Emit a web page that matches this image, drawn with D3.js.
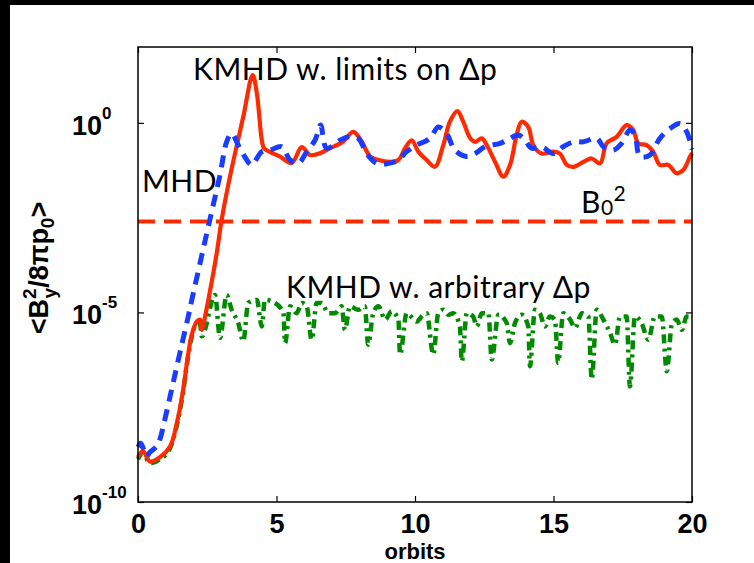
<!DOCTYPE html>
<html>
<head>
<meta charset="utf-8">
<script src="https://cdn.jsdelivr.net/npm/d3@7"></script>
<style>
  body { margin: 0; background: #fff; }
  svg { display: block; }
  .tick text { font-family: "Liberation Sans", Arial, sans-serif; font-weight: bold; font-size: 27px; }
  .note { font-family: Lato, "Open Sans", sans-serif; font-size: 30px; letter-spacing: 0.5px; fill: #000; }
</style>
</head>
<body>
<svg id="chart" width="754" height="563"></svg>
<script>
// time in orbits, values as log10 exponents
const tRed = [0,0.18,0.43,0.79,1.16,1.40,1.62,1.81,1.94,2.12,2.24,2.30,2.42,2.66,2.85,3.02,3.32,3.80,4.14,4.29,4.47,4.55,4.77,5.13,5.55,5.91,6.21,6.57,6.93,7.40,7.77,8.08,8.38,8.68,9.10,9.40,9.64,9.88,10.12,10.42,10.72,11.02,11.26,11.53,11.74,11.99,12.17,12.41,12.65,12.89,13.19,13.43,13.67,13.85,14.09,14.27,14.57,14.99,15.23,15.48,15.72,16.08,16.38,16.68,16.92,17.28,17.64,17.88,18.06,18.36,18.60,18.84,19.14,19.45,19.69,19.93,20];
const expRed = [-8.82,-8.66,-8.93,-8.82,-8.53,-7.93,-7.09,-6.11,-5.59,-5.24,-5.19,-5.46,-5.11,-4.20,-3.40,-2.56,-1.42,0.16,1.26,0.78,-0.46,-0.67,-0.77,-0.89,-1.06,-0.64,-0.85,-0.80,-0.67,-0.50,-0.24,-0.50,-0.89,-0.98,-1.03,-0.98,-0.67,-0.46,-0.76,-0.98,-1.16,-0.59,0.03,0.31,0.03,-0.40,-0.50,-0.41,-0.67,-1.03,-1.42,-1.11,-0.32,0.03,-0.11,-0.59,-0.81,-0.76,-0.81,-1.11,-1.16,-1.03,-0.94,-1.07,-0.54,-0.37,-0.06,-0.19,-0.54,-0.59,-0.76,-1.11,-1.11,-1.33,-1.24,-0.89,-0.80];

const tBlue = [0,0.10,0.31,0.43,0.68,0.79,0.97,1.27,1.58,1.81,1.94,2.24,2.48,2.72,2.96,3.20,3.38,3.62,3.86,4.10,4.47,4.77,5.19,5.49,5.79,6.09,6.39,6.59,6.81,7.29,7.59,7.95,8.26,8.62,9.04,9.40,9.70,10.06,10.54,10.84,11.14,11.44,11.87,12.17,12.53,13.07,13.43,13.73,13.97,14.21,14.57,14.99,15.35,15.72,16.08,16.56,16.80,17.16,17.46,17.76,17.94,18.12,18.48,18.84,19.21,19.57,19.81,20];
const expBlue = [-8.55,-8.45,-8.79,-8.69,-8.53,-8.35,-7.82,-6.85,-5.85,-5.12,-4.68,-3.70,-2.92,-2.15,-1.38,-0.50,-0.28,-0.59,-0.90,-1.11,-0.76,-0.72,-0.63,-0.98,-1.07,-0.76,-0.46,-0.06,-0.67,-0.46,-0.37,-0.41,-0.81,-1.07,-1.07,-0.98,-0.76,-0.59,-0.41,-0.11,-0.28,-0.72,-0.89,-0.81,-0.63,-0.54,-0.41,-0.32,-0.46,-0.67,-0.63,-0.81,-0.63,-0.50,-0.50,-0.41,-0.63,-0.72,-0.54,-0.19,-0.32,-0.89,-0.85,-0.41,-0.15,-0.02,-0.24,-0.70];

const tGreen = [0,0.18,0.43,0.79,1.16,1.40,1.62,1.81,1.94,2.12,2.24,2.30,2.78,2.96,3.20,3.38,3.62,3.80,3.98,4.29,4.47,4.58,4.95,5.25,5.31,5.49,5.73,5.91,6.09,6.27,6.45,6.63,6.87,7.11,7.35,7.47,7.65,7.95,8.19,8.31,8.49,8.68,8.92,9.16,9.40,9.46,9.70,10.06,10.24,10.42,10.66,10.84,11.02,11.20,11.38,11.62,11.69,11.87,12.10,12.23,12.41,12.65,12.77,13.01,13.31,13.43,13.61,13.85,14.09,14.15,14.33,14.51,14.69,14.87,15.05,15.17,15.35,15.60,15.78,16.02,16.26,16.38,16.56,16.80,17.04,17.22,17.40,17.64,17.76,17.94,18.18,18.42,18.66,18.91,19.09,19.27,19.45,19.63,19.81,20];
const expGreen = [-8.87,-8.71,-8.98,-8.87,-8.58,-7.98,-7.14,-6.16,-5.64,-5.30,-5.30,-5.63,-4.54,-5.67,-4.54,-4.93,-5.28,-5.76,-4.75,-4.67,-5.37,-4.67,-4.75,-5.02,-5.81,-4.84,-5.02,-4.75,-4.84,-5.72,-4.75,-4.75,-5.02,-5.02,-4.84,-5.46,-4.84,-4.93,-4.84,-5.85,-5.02,-4.84,-5.19,-4.97,-5.19,-6.11,-5.02,-5.24,-5.11,-5.02,-6.11,-5.02,-4.93,-5.06,-5.02,-5.37,-6.29,-5.02,-5.11,-5.37,-5.02,-5.02,-6.24,-5.06,-5.28,-5.81,-5.28,-5.06,-5.37,-6.42,-4.93,-5.02,-5.37,-5.11,-5.19,-6.33,-5.02,-5.19,-5.41,-5.02,-5.11,-6.77,-4.93,-5.19,-5.54,-5.85,-5.11,-5.11,-6.95,-5.11,-5.28,-5.72,-5.11,-5.11,-6.55,-5.32,-5.19,-5.46,-5.11,-5.11];

const b0Squared = 2.5e-3;
const xTicks = [0, 5, 10, 15, 20];
const yTicks = [1e-10, 1e-5, 1e0];
const yTickExp = ["-10", "-5", "0"];

const svg = d3.select("#chart");
const pLeft = 138, pRight = 692, pTop = 47, pBottom = 502;

// black edge strips of the captured figure
svg.append("rect").attr("width", 754).attr("height", 563).attr("fill", "#fff");
svg.append("rect").attr("width", 754).attr("height", 5).attr("fill", "#000");
svg.append("rect").attr("width", 10).attr("height", 563).attr("fill", "#000");

const x = d3.scaleLinear().domain([0, 20]).range([pLeft, pRight]);
const y = d3.scaleLog().domain([1e-10, 1e2]).range([pBottom, pTop]);

const toPts = (ts, es) => ts.map((t, i) => [t, Math.pow(10, es[i])]);

const smooth = d3.line()
  .x(d => x(d[0])).y(d => y(d[1]))
  .curve(d3.curveCatmullRom.alpha(0.5));
const mono = d3.line()
  .x(d => x(d[0])).y(d => y(d[1]))
  .curve(d3.curveMonotoneX);

const plot = svg.append("g");

// B0^2 reference line
plot.append("line")
  .attr("x1", x(0)).attr("x2", x(20))
  .attr("y1", y(b0Squared)).attr("y2", y(b0Squared))
  .attr("stroke", "#ff2a00").attr("stroke-width", 4)
  .attr("stroke-dasharray", "17,9");

plot.append("path")
  .attr("d", mono(toPts(tGreen, expGreen)))
  .attr("fill", "none").attr("stroke", "#008a00").attr("stroke-width", 4.5)
  .attr("stroke-dasharray", "9,5,3,5");

plot.append("path")
  .attr("d", smooth(toPts(tRed, expRed)))
  .attr("fill", "none").attr("stroke", "#ff2a00").attr("stroke-width", 4.2)
  .attr("stroke-linejoin", "round");

plot.append("path")
  .attr("d", smooth(toPts(tBlue, expBlue)))
  .attr("fill", "none").attr("stroke", "#1a3cff").attr("stroke-width", 5)
  .attr("stroke-dasharray", "12,8");

// frame and inward ticks
svg.append("rect")
  .attr("x", pLeft).attr("y", pTop)
  .attr("width", pRight - pLeft).attr("height", pBottom - pTop)
  .attr("fill", "none").attr("stroke", "#000").attr("stroke-width", 1.5);

const xAxis = svg.append("g")
  .attr("transform", `translate(0,${pBottom})`)
  .call(d3.axisBottom(x).tickValues(xTicks).tickSizeInner(-6).tickSizeOuter(0).tickPadding(12));
xAxis.select(".domain").remove();

const xTop = svg.append("g")
  .attr("transform", `translate(0,${pTop})`)
  .call(d3.axisTop(x).tickValues(xTicks).tickSizeInner(-6).tickSizeOuter(0).tickFormat(""));
xTop.select(".domain").remove();

const yAxis = svg.append("g")
  .attr("transform", `translate(${pLeft},0)`)
  .call(d3.axisLeft(y).tickValues(yTicks).tickSizeInner(-6).tickSizeOuter(0).tickFormat(""));
yAxis.select(".domain").remove();

const yRight = svg.append("g")
  .attr("transform", `translate(${pRight},0)`)
  .call(d3.axisRight(y).tickValues(yTicks).tickSizeInner(-6).tickSizeOuter(0).tickFormat(""));
yRight.select(".domain").remove();

svg.selectAll(".tick line").attr("stroke", "#000").attr("stroke-width", 1.2);
svg.selectAll(".tick text").attr("fill", "#000");

// power-of-ten labels
const yLab = svg.append("g")
  .style("font-family", "'Liberation Sans', Arial, sans-serif")
  .style("font-weight", "bold");
yTicks.forEach((v, i) => {
  const t = yLab.append("text").attr("x", 72).attr("y", y(v) + 12).attr("font-size", 27);
  t.append("tspan").text("10");
  t.append("tspan").attr("font-size", 17).attr("dy", -16).text(yTickExp[i]);
});

svg.append("text")
  .attr("x", x(10)).attr("y", 559)
  .attr("text-anchor", "middle")
  .style("font-family", "'Liberation Sans', Arial, sans-serif")
  .style("font-weight", "bold").style("font-size", "22px")
  .text("orbits");

// y label <B_y^2/8πp_0>
const yl = svg.append("text")
  .attr("transform", "translate(48,268) rotate(-90)")
  .attr("text-anchor", "middle")
  .style("font-family", "'Liberation Sans', Arial, sans-serif")
  .style("font-weight", "bold").style("font-size", "27px");
yl.append("tspan").text("<B");
yl.append("tspan").attr("font-size", 19).attr("dy", -12).text("2");
yl.append("tspan").attr("font-size", 19).attr("dx", -10).attr("dy", 20).text("y");
yl.append("tspan").attr("dy", -8).text("/8πp");
yl.append("tspan").attr("font-size", 19).attr("dy", 6).text("0");
yl.append("tspan").attr("dy", -6).text(">");

// annotations
svg.append("text").attr("class", "note").attr("x", 193).attr("y", 80).text("KMHD w. limits on Δp");
svg.append("text").attr("class", "note").attr("x", 142).attr("y", 192).text("MHD");
svg.append("text").attr("class", "note").attr("x", 286).attr("y", 298).text("KMHD w. arbitrary Δp");
const b0 = svg.append("text").attr("class", "note").attr("x", 581).attr("y", 213);
b0.append("tspan").text("B");
b0.append("tspan").attr("font-size", 21).attr("dy", 2).text("0");
b0.append("tspan").attr("font-size", 21).attr("dy", -14).text("2");
</script>
</body>
</html>
